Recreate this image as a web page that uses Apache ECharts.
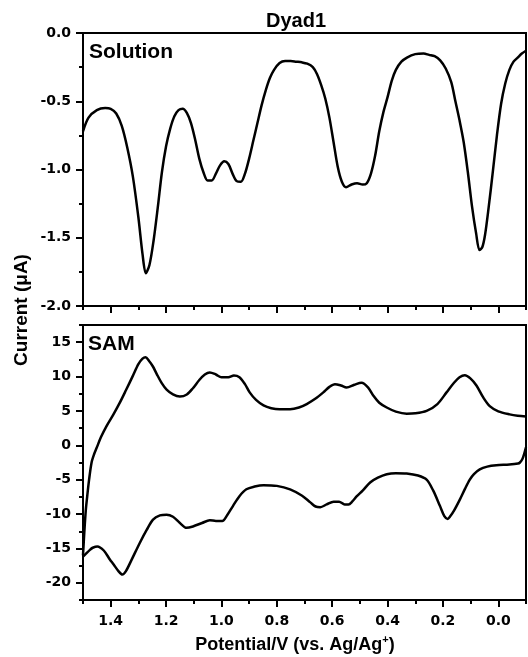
<!DOCTYPE html>
<html>
<head>
<meta charset="utf-8">
<script src="https://cdn.jsdelivr.net/npm/echarts@6/dist/echarts.min.js"></script>
<style>
  html, body { margin: 0; padding: 0; background: #fff; }
  #chart { width: 528px; height: 657px; }
</style>
</head>
<body>
<div id="chart"></div>
<script>
// Dyad1 - 溶液 / SAM 伏安曲线

// 溶液 (上图)
const solPot = [1.500, 1.48, 1.45, 1.42, 1.40, 1.38, 1.36, 1.34, 1.32, 1.30, 1.285, 1.273, 1.26, 1.245, 1.23, 1.215, 1.20, 1.185, 1.17, 1.155, 1.14, 1.125, 1.11, 1.095, 1.08, 1.065, 1.05, 1.035, 1.02, 1.005, 0.99, 0.975, 0.96, 0.945, 0.93, 0.915, 0.90, 0.885, 0.87, 0.855, 0.84, 0.825, 0.81, 0.79, 0.77, 0.75, 0.73, 0.71, 0.69, 0.67, 0.655, 0.64, 0.625, 0.61, 0.595, 0.58, 0.565, 0.55, 0.53, 0.51, 0.49, 0.475, 0.46, 0.445, 0.43, 0.415, 0.40, 0.385, 0.37, 0.35, 0.33, 0.30, 0.27, 0.25, 0.23, 0.21, 0.19, 0.17, 0.155, 0.14, 0.125, 0.11, 0.095, 0.08, 0.068, 0.058, 0.048, 0.035, 0.02, 0.005, -0.01, -0.025, -0.04, -0.055, -0.07, -0.085, -0.10];
const solCur = [-0.72, -0.62, -0.565, -0.55, -0.555, -0.59, -0.68, -0.84, -1.05, -1.35, -1.62, -1.76, -1.70, -1.52, -1.28, -1.02, -0.83, -0.70, -0.61, -0.565, -0.555, -0.585, -0.66, -0.78, -0.92, -1.02, -1.08, -1.08, -1.03, -0.97, -0.94, -0.96, -1.03, -1.085, -1.09, -1.03, -0.92, -0.79, -0.66, -0.53, -0.42, -0.33, -0.27, -0.22, -0.205, -0.205, -0.21, -0.215, -0.225, -0.25, -0.30, -0.38, -0.48, -0.62, -0.80, -0.98, -1.09, -1.13, -1.11, -1.10, -1.11, -1.10, -1.03, -0.90, -0.72, -0.58, -0.47, -0.35, -0.27, -0.21, -0.18, -0.155, -0.15, -0.16, -0.17, -0.20, -0.26, -0.36, -0.50, -0.64, -0.80, -1.02, -1.27, -1.47, -1.59, -1.57, -1.48, -1.28, -1.02, -0.75, -0.52, -0.37, -0.27, -0.21, -0.18, -0.15, -0.13];

// SAM 正扫 (上支)
const samFwdPot = [1.500, 1.495, 1.490, 1.485, 1.478, 1.469, 1.460, 1.451, 1.435, 1.415, 1.39, 1.367, 1.345, 1.32, 1.30, 1.285, 1.274, 1.262, 1.248, 1.234, 1.215, 1.198, 1.175, 1.15, 1.125, 1.103, 1.08, 1.06, 1.042, 1.02, 1.0, 0.975, 0.955, 0.935, 0.915, 0.898, 0.875, 0.848, 0.82, 0.79, 0.752, 0.72, 0.692, 0.66, 0.632, 0.61, 0.59, 0.568, 0.548, 0.52, 0.494, 0.47, 0.451, 0.43, 0.403, 0.37, 0.331, 0.30, 0.259, 0.22, 0.187, 0.16, 0.14, 0.121, 0.10, 0.079, 0.055, 0.031, 0.0, -0.041, -0.07, -0.10];
const samFwdCur = [-16.0, -12.5, -9.5, -7.5, -5.0, -2.5, -1.3, -0.4, 1.2, 2.8, 4.5, 6.2, 8.0, 10.1, 11.8, 12.6, 12.8, 12.3, 11.5, 10.4, 9.0, 8.1, 7.4, 7.1, 7.4, 8.3, 9.5, 10.3, 10.6, 10.3, 9.9, 9.9, 10.15, 9.9, 8.9, 7.7, 6.6, 5.8, 5.4, 5.25, 5.25, 5.5, 6.0, 6.8, 7.7, 8.5, 8.9, 8.7, 8.4, 8.8, 9.1, 8.4, 7.2, 6.2, 5.5, 4.9, 4.6, 4.65, 5.0, 6.0, 7.7, 9.1, 9.9, 10.2, 9.7, 8.7, 7.0, 5.7, 4.95, 4.5, 4.3, 4.2];

// SAM 反扫 (下支)
const samRevPot = [-0.10, -0.093, -0.087, -0.078, -0.071, -0.04, 0.007, 0.04, 0.067, 0.088, 0.103, 0.12, 0.139, 0.16, 0.175, 0.183, 0.195, 0.211, 0.235, 0.259, 0.29, 0.331, 0.37, 0.403, 0.435, 0.463, 0.49, 0.511, 0.528, 0.541, 0.555, 0.575, 0.595, 0.62, 0.643, 0.66, 0.679, 0.71, 0.752, 0.80, 0.848, 0.88, 0.91, 0.935, 0.958, 0.98, 0.997, 1.02, 1.042, 1.07, 1.103, 1.126, 1.15, 1.175, 1.198, 1.222, 1.247, 1.27, 1.295, 1.325, 1.345, 1.358, 1.372, 1.39, 1.403, 1.425, 1.448, 1.465, 1.475, 1.49, 1.50];
const samRevCur = [-0.3, -1.3, -2.0, -2.5, -2.65, -2.8, -2.9, -3.1, -3.5, -4.2, -5.0, -6.3, -7.9, -9.5, -10.4, -10.7, -10.3, -8.8, -6.6, -5.0, -4.4, -4.1, -4.05, -4.2, -4.7, -5.4, -6.6, -7.4, -8.2, -8.6, -8.6, -8.2, -8.2, -8.6, -9.0, -8.9, -8.3, -7.3, -6.4, -5.9, -5.8, -6.0, -6.4, -7.4, -8.8, -10.2, -11.0, -11.0, -10.9, -11.3, -11.8, -12.0, -11.3, -10.4, -10.1, -10.2, -10.8, -12.3, -14.2, -16.7, -18.3, -18.8, -18.3, -17.3, -16.6, -15.3, -14.7, -14.9, -15.2, -15.8, -16.2];

// 刻度
const xMajor = [1.4, 1.2, 1.0, 0.8, 0.6, 0.4, 0.2, 0.0];
const xMinor = [1.5, 1.3, 1.1, 0.9, 0.7, 0.5, 0.3, 0.1, -0.1];
const samMajor = [-20, -15, -10, -5, 0, 5, 10, 15];
const samMinor = [-22.5, -17.5, -12.5, -7.5, -2.5, 2.5, 7.5, 12.5, 17.5];

const zip = (xs, ys) => xs.map((x, i) => [x, ys[i]]);

const labelFont = {
    color: '#000',
    fontFamily: 'DejaVu Sans',
    fontWeight: 'bold',
    fontSize: 14
};
const blackLine = { color: '#000', width: 2 };

function makeX(gridIndex, ticks, len, major, showLabel) {
    return {
        type: 'value',
        gridIndex: gridIndex,
        position: 'bottom',
        min: -0.1,
        max: 1.5,
        inverse: true,
        axisLine: { show: major, onZero: false, lineStyle: blackLine },
        axisTick: { show: true, inside: false, length: len, customValues: ticks, lineStyle: blackLine },
        axisLabel: Object.assign({
            show: showLabel,
            customValues: ticks,
            margin: 14,
            formatter: v => v.toFixed(1)
        }, labelFont),
        splitLine: { show: false }
    };
}

function makeSamY(ticks, len, major) {
    return {
        type: 'value',
        gridIndex: 1,
        position: 'left',
        min: -22.5,
        max: 17.5,
        axisLine: { show: major, onZero: false, lineStyle: blackLine },
        axisTick: { show: true, inside: false, length: len, customValues: ticks, lineStyle: blackLine },
        axisLabel: Object.assign({
            show: major,
            customValues: ticks,
            margin: 12,
            formatter: v => String(v)
        }, labelFont),
        splitLine: { show: false }
    };
}

const titleFont = 'bold 20px "Liberation Sans", Arial, sans-serif';

const chart = echarts.init(document.getElementById('chart'), null, { renderer: 'canvas' });

const option = {
    backgroundColor: '#fff',
    animation: false,
    grid: [
        { left: 83, top: 33, width: 443, height: 273, show: true, borderColor: '#000', borderWidth: 2, backgroundColor: 'transparent' },
        { left: 83, top: 325, width: 443, height: 275, show: true, borderColor: '#000', borderWidth: 2, backgroundColor: 'transparent' }
    ],
    xAxis: [
        makeX(0, xMajor, 7, true, false),
        makeX(0, xMinor, 4, false, false),
        makeX(1, xMajor, 7, true, true),
        makeX(1, xMinor, 4, false, false)
    ],
    yAxis: [
        {
            type: 'value',
            gridIndex: 0,
            position: 'left',
            min: -2,
            max: 0,
            interval: 0.5,
            axisLine: { show: true, onZero: false, lineStyle: blackLine },
            axisTick: { show: true, inside: false, length: 7, lineStyle: blackLine },
            minorTick: { show: true, splitNumber: 2, length: 4, lineStyle: blackLine },
            axisLabel: Object.assign({ margin: 12, formatter: v => v.toFixed(1) }, labelFont),
            splitLine: { show: false },
            minorSplitLine: { show: false }
        },
        makeSamY(samMajor, 7, true),
        makeSamY(samMinor, 4, false)
    ],
    series: [
        {
            name: 'Solution',
            type: 'line',
            xAxisIndex: 0,
            yAxisIndex: 0,
            data: zip(solPot, solCur),
            showSymbol: false,
            smooth: 0.3,
            lineStyle: { color: '#000', width: 2.5 },
            clip: true
        },
        {
            name: 'SAM forward',
            type: 'line',
            xAxisIndex: 2,
            yAxisIndex: 1,
            data: zip(samFwdPot, samFwdCur),
            showSymbol: false,
            smooth: 0.3,
            lineStyle: { color: '#000', width: 2.5 },
            clip: true
        },
        {
            name: 'SAM reverse',
            type: 'line',
            xAxisIndex: 2,
            yAxisIndex: 1,
            data: zip(samRevPot, samRevCur),
            showSymbol: false,
            smooth: 0.3,
            lineStyle: { color: '#000', width: 2.5 },
            clip: true
        }
    ],
    graphic: [
        {
            type: 'text', x: 296, y: 21,
            style: { text: 'Dyad1', font: titleFont, fill: '#000', textAlign: 'center', align: 'center', textVerticalAlign: 'middle', verticalAlign: 'middle' }
        },
        {
            type: 'text', x: 89, y: 52,
            style: { text: 'Solution', font: 'bold 21px "Liberation Sans", Arial, sans-serif', fill: '#000', textAlign: 'left', align: 'left', textVerticalAlign: 'middle', verticalAlign: 'middle' }
        },
        {
            type: 'text', x: 88, y: 344,
            style: { text: 'SAM', font: 'bold 21px "Liberation Sans", Arial, sans-serif', fill: '#000', textAlign: 'left', align: 'left', textVerticalAlign: 'middle', verticalAlign: 'middle' }
        },
        {
            type: 'text', x: 22, y: 310, rotation: Math.PI / 2,
            style: { text: 'Current (\u03bcA)', font: 'bold 19px "Liberation Sans", Arial, sans-serif', fill: '#000', textAlign: 'center', align: 'center', textVerticalAlign: 'middle', verticalAlign: 'middle' }
        },
        {
            type: 'text', x: 295, y: 645,
            style: {
                text: '{a|Potential/V (vs. Ag/Ag}{s|+}{a|)}',
                fill: '#000',
                textAlign: 'center', align: 'center',
                textVerticalAlign: 'middle', verticalAlign: 'middle',
                rich: {
                    a: { fontFamily: 'Liberation Sans', fontWeight: 'bold', fontSize: 18, lineHeight: 22, fill: '#000', color: '#000' },
                    s: { fontFamily: 'Liberation Sans', fontWeight: 'bold', fontSize: 11, lineHeight: 22, verticalAlign: 'top', fill: '#000', color: '#000' }
                }
            }
        }
    ]
};

chart.setOption(option);

window.addEventListener('resize', function () {
    chart.resize();
});
</script>
</body>
</html>
